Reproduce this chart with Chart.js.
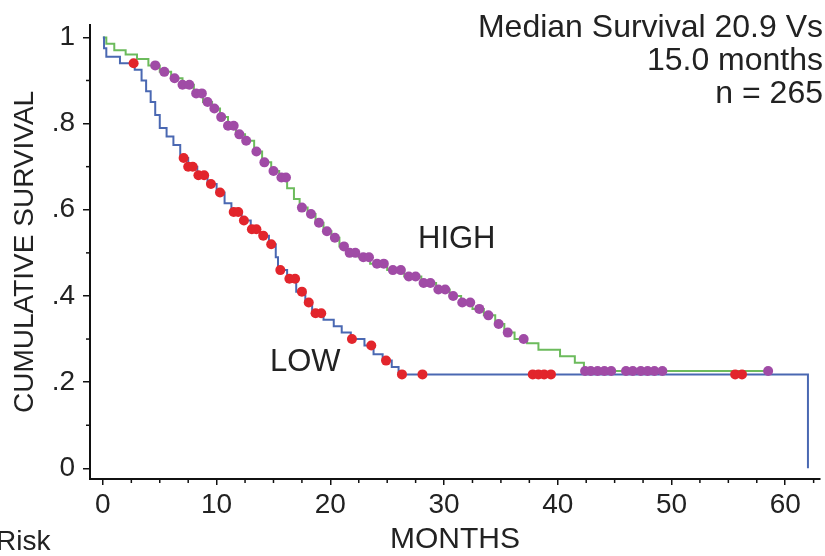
<!DOCTYPE html>
<html lang="en">
<head>
    <meta charset="UTF-8">
    <title>Cumulative Survival - HIGH vs LOW</title>
    <style>
        html, body {
            margin: 0;
            padding: 0;
            background: #ffffff;
        }
        #wrap {
            width: 825px;
            height: 556px;
            position: relative;
        }
    </style>
</head>
<body>

<div id="wrap">
    <canvas id="kmChart" width="825" height="556"></canvas>
</div>

<script src="https://cdn.jsdelivr.net/npm/chart.js"></script>
<script>
    // Kaplan-Meier steps (month of event, survival after it)
    var lowTimes = [0, 0.1, 0.3, 1.5, 2.8, 3.4, 3.8, 4.2, 4.6, 5.0, 5.6, 6.2, 6.8, 7.5, 8.3, 9.2, 10.0, 10.7, 11.3, 12.2,
        13.0, 13.8, 14.6, 15.2, 15.4, 16.2, 17.0, 17.8, 18.4, 19.4, 20.3, 21.0, 21.8, 23.0, 23.8, 24.6, 25.4, 26.0, 62.0];
    var lowSurv = [1.0, 0.975, 0.955, 0.94, 0.925, 0.90, 0.875, 0.85, 0.82, 0.79, 0.77, 0.75, 0.72, 0.70, 0.68, 0.66, 0.64, 0.615, 0.595, 0.575,
        0.555, 0.54, 0.52, 0.49, 0.46, 0.44, 0.41, 0.385, 0.36, 0.345, 0.33, 0.315, 0.30, 0.285, 0.265, 0.25, 0.235, 0.218, 0.0];

    var highTimes = [0, 0.3, 1.0, 2.0, 3.0, 4.0, 5.0, 6.0, 7.0, 8.0, 8.8, 9.6, 10.3, 11.0, 11.7, 12.5, 13.3, 14.0, 14.8, 15.5,
        16.2, 16.8, 17.3, 18.0, 18.7, 19.4, 20.1, 20.8, 21.4, 22.5, 23.5, 25.0, 26.5, 28.0, 29.3, 30.5, 31.5, 32.5, 33.5, 34.5,
        35.3, 36.2, 37.3, 38.3, 40.2, 41.5, 42.3, 58.9];
    var highSurv = [1.0, 0.985, 0.97, 0.96, 0.95, 0.935, 0.92, 0.905, 0.89, 0.87, 0.85, 0.835, 0.815, 0.795, 0.775, 0.76, 0.735, 0.71, 0.69, 0.675,
        0.65, 0.625, 0.605, 0.59, 0.57, 0.55, 0.535, 0.515, 0.50, 0.49, 0.475, 0.46, 0.445, 0.43, 0.415, 0.40, 0.385, 0.37, 0.355, 0.335,
        0.315, 0.30, 0.29, 0.275, 0.26, 0.245, 0.226, 0.226];

    // censored observations (months)
    var lowCensored = [2.7, 7.1, 7.5, 7.9, 8.4, 8.9, 9.5, 10.3, 11.5, 11.9, 12.4, 13.1, 13.5, 14.1, 14.8, 15.6, 16.4, 16.9, 17.5,
        18.1, 18.7, 19.2, 21.9, 23.6, 24.9, 26.3, 28.1, 37.8, 38.3, 38.8, 39.4, 55.6, 56.2];
    var highCensored = [4.6, 5.4, 6.3, 7.0, 7.6, 8.2, 8.7, 9.2, 9.8, 10.4, 11.0, 11.5, 12.0, 12.6, 13.5, 14.2, 15.0, 15.7, 16.1,
        17.5, 18.3, 19.0, 19.7, 20.4, 21.2, 21.7, 22.2, 22.9, 23.4, 24.1, 24.7, 25.5, 26.2, 26.9, 27.5, 28.2, 28.8, 29.5, 30.1,
        30.8, 31.6, 32.3, 33.1, 33.9, 34.8, 35.6, 37.0, 42.4, 42.9, 43.5, 44.1, 44.7, 46.0, 46.6, 47.3, 47.9, 48.5, 49.2, 58.5];

    var xTicks = [0, 10, 20, 30, 40, 50, 60];
    var xMinorTicks = [2.5, 5, 7.5, 12.5, 15, 17.5, 22.5, 25, 27.5, 32.5, 35, 37.5, 42.5, 45, 47.5, 52.5, 55, 57.5, 62.5];
    var yTicks = [0, 0.2, 0.4, 0.6, 0.8, 1];
    var yTickLabels = ['0', '.2', '.4', '.6', '.8', '1'];
    var yMinorTicks = [0.1, 0.3, 0.5, 0.7, 0.9];

    var noteLines = ['Median Survival 20.9 Vs', '15.0 months', 'n = 265'];

    var FONT = '"Liberation Sans", Arial, Helvetica, sans-serif';

    function toPoints(times, surv) {
        return times.map(function (t, i) { return { x: t, y: surv[i] }; });
    }

    // survival value of a step curve at time t
    function survAt(times, surv, t) {
        var s = surv[0];
        for (var i = 0; i < times.length; i++) {
            if (times[i] <= t) s = surv[i];
        }
        return s;
    }

    function censorPoints(list, times, surv) {
        return list.map(function (t) { return { x: t, y: survAt(times, surv, t) }; });
    }

    // small ticks and free text
    var extrasPlugin = {
        id: 'extras',
        afterDraw: function (chart) {
            var ctx = chart.ctx;
            var xs = chart.scales.x, ys = chart.scales.y;
            var area = chart.chartArea;
            ctx.save();
            ctx.strokeStyle = '#111';
            ctx.lineWidth = 1.5;
            yMinorTicks.forEach(function (v) {
                var py = ys.getPixelForValue(v);
                ctx.beginPath();
                ctx.moveTo(area.left - 4, py);
                ctx.lineTo(area.left, py);
                ctx.stroke();
            });
            xMinorTicks.forEach(function (v) {
                var px = xs.getPixelForValue(v);
                ctx.beginPath();
                ctx.moveTo(px, area.bottom);
                ctx.lineTo(px, area.bottom + 4);
                ctx.stroke();
            });

            ctx.fillStyle = '#222';
            ctx.textBaseline = 'alphabetic';
            ctx.font = '32px ' + FONT;
            ctx.textAlign = 'right';
            noteLines.forEach(function (line, i) {
                ctx.fillText(line, 823, 37 + i * 33);
            });
            ctx.font = '31px ' + FONT;
            ctx.textAlign = 'left';
            ctx.fillText('HIGH', 418, 248);
            ctx.fillText('LOW', 270, 371);
            ctx.font = '28px ' + FONT;
            ctx.fillText('Risk', -4, 550);
            ctx.restore();
        }
    };

    var ctx = document.getElementById('kmChart').getContext('2d');
    var kmChart = new Chart(ctx, {
        type: 'line',
        data: {
            datasets: [
                {
                    label: 'LOW censored',
                    data: censorPoints(lowCensored, lowTimes, lowSurv),
                    showLine: false,
                    pointRadius: 5,
                    pointBorderWidth: 0,
                    pointBackgroundColor: '#e2252c',
                    order: 0
                },
                {
                    label: 'HIGH censored',
                    data: censorPoints(highCensored, highTimes, highSurv),
                    showLine: false,
                    pointRadius: 5,
                    pointBorderWidth: 0,
                    pointBackgroundColor: '#a04ba6',
                    order: 0
                },
                {
                    label: 'LOW',
                    data: toPoints(lowTimes, lowSurv),
                    stepped: true,
                    borderColor: '#4a68b2',
                    borderWidth: 2,
                    pointRadius: 0,
                    fill: false,
                    order: 1
                },
                {
                    label: 'HIGH',
                    data: toPoints(highTimes, highSurv),
                    stepped: true,
                    borderColor: '#6cbb5c',
                    borderWidth: 2,
                    pointRadius: 0,
                    fill: false,
                    order: 2
                }
            ]
        },
        options: {
            responsive: false,
            animation: false,
            layout: {
                padding: { top: 10, right: 0, bottom: 0, left: 0 }
            },
            plugins: {
                legend: { display: false },
                tooltip: { enabled: false }
            },
            scales: {
                x: {
                    type: 'linear',
                    min: -1.135,
                    max: 63.06,
                    afterBuildTicks: function (scale) {
                        scale.ticks = xTicks.map(function (v) { return { value: v }; });
                    },
                    afterFit: function (scale) {
                        scale.height = 77;
                    },
                    ticks: {
                        color: '#222',
                        font: { family: FONT, size: 28 },
                        padding: 3,
                        maxRotation: 0,
                        autoSkip: false
                    },
                    grid: {
                        drawOnChartArea: false,
                        drawTicks: true,
                        tickLength: 6,
                        color: '#111',
                        lineWidth: 1.5
                    },
                    border: { display: true, color: '#111', width: 2 },
                    title: {
                        display: true,
                        text: 'MONTHS',
                        color: '#222',
                        font: { family: FONT, size: 30, lineHeight: 1 },
                        padding: { top: 0, bottom: 1 }
                    }
                },
                y: {
                    type: 'linear',
                    min: -0.02472,
                    max: 1.0292,
                    afterBuildTicks: function (scale) {
                        scale.ticks = yTicks.map(function (v) { return { value: v }; });
                    },
                    afterFit: function (scale) {
                        scale.width = 90;
                    },
                    ticks: {
                        color: '#222',
                        font: { family: FONT, size: 28 },
                        padding: 8,
                        autoSkip: false,
                        callback: function (value, index) {
                            return yTickLabels[index];
                        }
                    },
                    grid: {
                        drawOnChartArea: false,
                        drawTicks: true,
                        tickLength: 7,
                        color: '#111',
                        lineWidth: 1.5
                    },
                    border: { display: true, color: '#111', width: 2 },
                    title: {
                        display: true,
                        text: 'CUMULATIVE SURVIVAL',
                        color: '#222',
                        font: { family: FONT, size: 28, lineHeight: 1.2 },
                        padding: { top: 8, bottom: 0 }
                    }
                }
            }
        },
        plugins: [extrasPlugin]
    });
</script>

</body>
</html>
